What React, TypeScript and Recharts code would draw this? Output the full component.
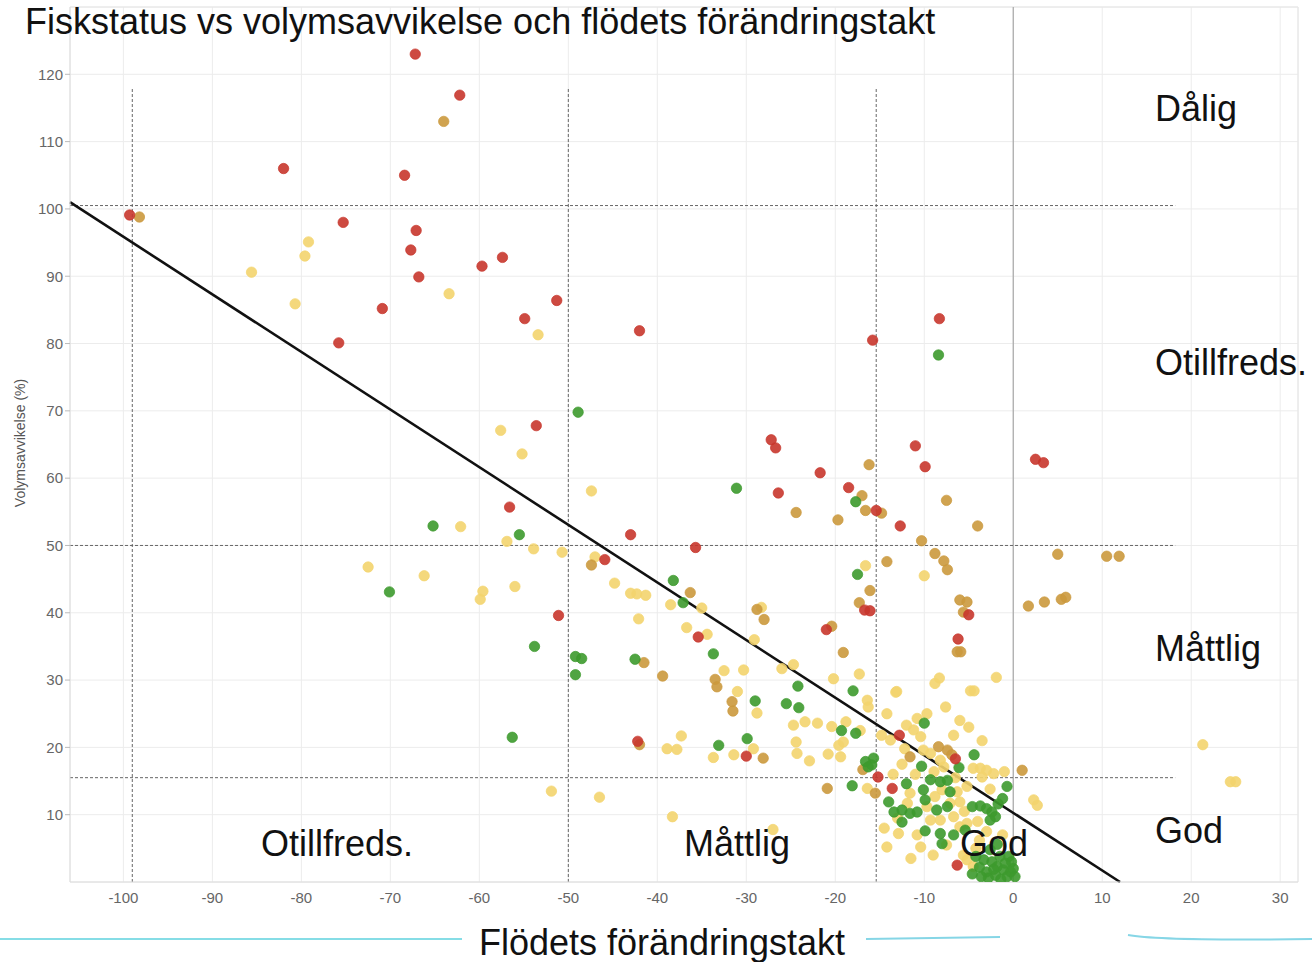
import React from "react";
import {
  CartesianGrid,
  ReferenceLine,
  Scatter,
  ScatterChart,
  XAxis,
  YAxis,
} from "recharts";

type Pt = [number, number];

// x = flödets förändringstakt, y = volymsavvikelse (%)
const xTicks = [-100, -90, -80, -70, -60, -50, -40, -30, -20, -10, 0, 10, 20, 30];
const yTicks = [10, 20, 30, 40, 50, 60, 70, 80, 90, 100, 110, 120];

const redPoints: Pt[] = [
  [-67.2, 123.0], [-62.2, 116.9], [-82.0, 106.0], [-68.4, 105.0], [-99.3, 99.1],
  [-75.3, 98.0], [-67.1, 96.8], [-67.7, 93.9], [-57.4, 92.8], [-59.7, 91.5],
  [-66.8, 89.9], [-70.9, 85.2], [-51.3, 86.4], [-54.9, 83.7], [-75.8, 80.1],
  [-42.0, 81.9], [-15.8, 80.5], [-8.3, 83.7], [-53.6, 67.8], [-27.2, 65.7],
  [-26.7, 64.5], [-11.0, 64.8], [-9.9, 61.7], [2.5, 62.8], [3.4, 62.3],
  [-21.7, 60.8], [-26.4, 57.8], [-18.5, 58.6], [-56.6, 55.7], [-15.4, 55.2],
  [-12.7, 52.9], [-43.0, 51.6], [-35.7, 49.7], [-45.9, 47.9], [-51.1, 39.6],
  [-16.7, 40.4], [-16.1, 40.3], [-5.0, 39.7], [-6.2, 36.1], [-21.0, 37.5],
  [-35.4, 36.4], [-42.2, 20.9], [-30.0, 18.7], [-6.5, 18.3], [-15.2, 15.6],
  [-13.6, 13.9], [-6.3, 2.5], [-12.8, 21.8],
];

const ochrePoints: Pt[] = [
  [-64.0, 113.0], [-98.2, 98.8], [-16.2, 62.0], [-17.0, 57.4], [-16.6, 55.2],
  [-14.8, 54.8], [-24.4, 54.9], [-19.7, 53.8], [-7.5, 56.7], [-4.0, 52.9],
  [-10.3, 50.7], [-8.8, 48.8], [-7.8, 47.7], [-7.4, 46.4], [-14.2, 47.6],
  [-47.4, 47.1], [-36.3, 43.0], [-6.0, 41.9], [-5.2, 41.6], [-5.6, 40.1],
  [-6.3, 34.2], [-5.9, 34.2], [5.0, 48.7], [10.5, 48.4], [11.9, 48.4],
  [1.7, 41.0], [3.5, 41.6], [5.4, 42.0], [5.9, 42.3], [-16.1, 43.3],
  [-17.3, 41.5], [-28.8, 40.5], [-28.0, 39.0], [-20.4, 38.0], [-19.1, 34.1],
  [-41.5, 32.6], [-39.4, 30.6], [-33.5, 30.1], [-33.3, 29.0], [-31.6, 26.8],
  [-31.5, 25.4], [-42.0, 20.4], [-20.9, 13.9], [-15.5, 13.2], [-11.6, 18.6],
  [-7.4, 19.6], [-6.9, 18.9], [-8.4, 20.1], [1.0, 16.6], [-16.9, 16.7],
  [-28.1, 18.4],
];

const yellowPoints: Pt[] = [
  [-79.2, 95.1], [-79.6, 93.0], [-85.6, 90.6], [-63.4, 87.4], [-80.7, 85.9],
  [-53.4, 81.3], [-57.6, 67.1], [-55.2, 63.6], [-47.4, 58.1], [-62.1, 52.8],
  [-56.9, 50.6], [-53.9, 49.5], [-50.7, 49.0], [-47.0, 48.3], [-72.5, 46.8],
  [-66.2, 45.5], [-59.6, 43.2], [-59.9, 42.0], [-56.0, 43.9], [-44.8, 44.4],
  [-43.0, 42.9], [-42.3, 42.8], [-41.3, 42.6], [-42.1, 39.1], [-38.5, 41.2],
  [-35.0, 40.7], [-36.7, 37.8], [-34.4, 36.8], [-28.3, 40.8], [-29.1, 36.0],
  [-24.7, 32.3], [-26.0, 31.7], [-30.3, 31.5], [-32.5, 31.4], [-20.2, 30.2],
  [-17.3, 30.9], [-31.0, 28.3], [-28.8, 25.1], [-16.6, 47.0], [-10.0, 45.5],
  [-8.3, 30.3], [-1.9, 30.4], [-16.4, 27.0], [-16.3, 26.0], [-13.1, 28.3],
  [-14.2, 25.0], [-9.7, 25.0], [-8.8, 29.5], [-4.8, 28.4], [-4.4, 28.4],
  [-7.6, 26.0], [-24.7, 23.3], [-23.4, 23.8], [-22.0, 23.6], [-20.4, 23.1],
  [-18.8, 23.8], [-17.2, 22.5], [-14.8, 21.8], [-13.8, 21.1], [-11.2, 22.6],
  [-10.4, 21.6], [-6.7, 21.8], [-10.8, 24.3], [-12.0, 23.3], [-24.4, 20.8],
  [-24.3, 19.1], [-22.9, 18.0], [-19.6, 20.3], [-19.4, 18.6], [-20.8, 19.0],
  [-19.1, 20.8], [-37.3, 21.7], [-38.9, 19.8], [-37.8, 19.7], [-31.4, 18.9],
  [-33.7, 18.5], [-29.2, 19.8], [-10.1, 19.6], [-9.3, 19.1], [-8.2, 18.1],
  [-7.8, 17.1], [-8.9, 16.4], [-4.5, 16.9], [-3.7, 16.9], [-3.0, 16.6],
  [-2.2, 16.1], [-3.5, 15.6], [-16.4, 13.9], [-11.6, 13.2], [-8.8, 12.7],
  [-8.0, 13.7], [-6.3, 13.4], [-5.2, 14.2], [-11.9, 11.7], [-9.7, 11.2],
  [-7.1, 11.7], [-6.0, 11.9], [-9.3, 9.2], [-8.2, 9.2], [-6.7, 9.7],
  [-6.0, 8.2], [-5.2, 8.7], [-14.2, 5.2], [-12.9, 7.2], [-10.8, 7.0],
  [-10.4, 5.2], [-5.2, 3.3], [-4.5, 2.3], [-5.6, 4.0], [2.3, 12.2],
  [2.7, 11.4], [21.3, 20.4], [24.4, 14.9], [25.0, 14.9], [-51.9, 13.5],
  [-46.5, 12.6], [-38.3, 9.7], [-27.0, 7.8], [-13.2, 28.2], [-3.8, 6.2],
  [-1.2, 7.0], [-4.2, 5.0], [-13.5, 16.0], [-12.5, 17.5], [-11.0, 16.0],
  [-6.5, 15.5], [-5.5, 10.5], [-4.0, 9.0], [-3.0, 7.5], [-7.5, 5.5],
  [-9.0, 4.0], [-11.5, 3.5], [-13.0, 9.5], [-14.5, 8.0], [-6.0, 24.0],
  [-5.0, 23.0], [-3.5, 21.0], [-12.2, 19.8], [-2.6, 13.8], [-1.0, 16.4],
];

const greenPoints: Pt[] = [
  [-8.4, 78.3], [-48.9, 69.8], [-31.1, 58.5], [-65.2, 52.9], [-55.5, 51.6],
  [-70.1, 43.1], [-38.2, 44.8], [-37.1, 41.5], [-17.5, 45.7], [-17.7, 56.5],
  [-53.8, 35.0], [-49.2, 33.5], [-48.5, 33.2], [-49.2, 30.8], [-42.5, 33.1],
  [-33.7, 33.9], [-29.0, 26.9], [-25.5, 26.5], [-24.1, 25.9], [-24.2, 29.1],
  [-18.0, 28.4], [-56.3, 21.5], [-33.1, 20.3], [-29.9, 21.3], [-19.3, 22.5],
  [-17.7, 22.1], [-10.0, 23.6], [-16.6, 17.9], [-15.7, 18.4], [-15.9, 17.4],
  [-16.3, 17.1], [-4.4, 18.9], [-10.3, 17.2], [-6.1, 17.0], [-18.1, 14.3],
  [-12.0, 14.6], [-9.3, 15.2], [-8.2, 14.9], [-7.4, 15.1], [-7.1, 13.4],
  [-10.1, 13.7], [-9.9, 12.2], [-0.7, 14.2], [-1.2, 12.4], [-1.7, 11.6],
  [-14.0, 11.9], [-13.4, 10.4], [-12.5, 10.7], [-11.6, 10.2], [-10.8, 10.4],
  [-12.5, 8.9], [-8.6, 10.7], [-7.4, 11.2], [-4.6, 11.2], [-3.7, 11.3],
  [-3.0, 10.9], [-2.4, 10.4], [-2.0, 9.7], [-2.6, 9.2], [-9.9, 7.6],
  [-8.2, 7.2], [-6.7, 7.0], [-5.4, 7.7], [-8.0, 5.7], [-3.3, 3.3],
  [-2.4, 3.0], [-1.8, 2.3], [-1.1, 1.8], [-0.3, 1.5], [-3.0, 1.5],
  [-2.0, 1.0], [-0.7, 0.8], [0.0, 2.0], [-1.5, 3.8], [-0.5, 3.8],
  [-2.6, 4.8], [-1.8, 5.6], [-3.8, 2.2], [-2.8, 0.6], [-1.4, 0.4],
  [-0.2, 3.0], [-4.2, 3.8], [-3.6, 0.8], [-2.2, 1.9], [-0.9, 2.8],
  [0.2, 0.8], [-4.6, 1.2],
];

// trendlinje och klassgränser
const trendLine = [
  { x: -106, y: 101 },
  { x: 12, y: 0 },
];
const volumeLimits = [100.5, 50, 15.5];
const flowLimits = [-99, -50, -15.4];

const series = [
  { name: "Måttlig", points: yellowPoints, color: "#F3D46E" },
  { name: "Otillfreds.", points: ochrePoints, color: "#CB993D" },
  { name: "God", points: greenPoints, color: "#3D9A2E" },
  { name: "Dålig", points: redPoints, color: "#C8362C" },
];

const FONT = "'Liberation Sans', Arial, Helvetica, sans-serif";

function dot(color: string) {
  return (p: { cx?: number; cy?: number }) => (
    <circle
      cx={p.cx}
      cy={p.cy}
      r={5.2}
      fill={color}
      fillOpacity={0.9}
      stroke={color}
      strokeOpacity={0.7}
      strokeWidth={1}
    />
  );
}

export default function App() {
  return (
    <div
      style={{
        position: "absolute",
        left: 0,
        top: 0,
        width: 1312,
        height: 962,
        background: "#fff",
        fontFamily: FONT,
        overflow: "hidden",
      }}
    >
      <ScatterChart
        width={1312}
        height={962}
        margin={{ top: 7, right: 14, left: 20, bottom: 50 }}
      >
        <CartesianGrid stroke="#ececec" strokeWidth={1} />
        <XAxis
          type="number"
          dataKey="x"
          domain={[-106, 32]}
          ticks={xTicks}
          allowDataOverflow
          height={30}
          axisLine={{ stroke: "#dcdcdc" }}
          tickLine={false}
          tickSize={8}
          tick={{ fill: "#666", fontSize: 15, fontFamily: FONT }}
        />
        <YAxis
          type="number"
          dataKey="y"
          domain={[0, 130]}
          ticks={yTicks}
          allowDataOverflow
          width={50}
          axisLine={{ stroke: "#dcdcdc" }}
          tickLine={{ stroke: "#bbb" }}
          tickSize={5}
          tick={{ fill: "#666", fontSize: 15, fontFamily: FONT }}
        />
        <ReferenceLine y={130} stroke="#e6e6e6" />
        <ReferenceLine x={32} stroke="#e6e6e6" />
        <ReferenceLine x={0} stroke="#a8a8a8" strokeWidth={1.2} />
        {volumeLimits.map((v) => (
          <ReferenceLine
            key={"h" + v}
            segment={[
              { x: -106, y: v },
              { x: 18.2, y: v },
            ]}
            stroke="#666"
            strokeDasharray="3 2"
            strokeWidth={1}
          />
        ))}
        {flowLimits.map((v) => (
          <ReferenceLine
            key={"v" + v}
            segment={[
              { x: v, y: 0 },
              { x: v, y: 118 },
            ]}
            stroke="#666"
            strokeDasharray="3 2"
            strokeWidth={1}
          />
        ))}
        {series.map((s) => (
          <Scatter
            key={s.name}
            name={s.name}
            data={s.points.map(([x, y]) => ({ x, y }))}
            fill={s.color}
            shape={dot(s.color)}
            isAnimationActive={false}
          />
        ))}
        <ReferenceLine
          segment={trendLine}
          stroke="#111"
          strokeWidth={2.6}
          ifOverflow="visible"
        />
      </ScatterChart>

      <svg
        width={1312}
        height={962}
        style={{ position: "absolute", left: 0, top: 0, pointerEvents: "none" }}
        fontFamily={FONT}
      >
        <text x={25} y={34} fontSize={36} fill="#111">
          Fiskstatus vs volymsavvikelse och flödets förändringstakt
        </text>
        <text
          x={0}
          y={0}
          fontSize={14}
          fill="#555"
          textAnchor="middle"
          transform="translate(25,443) rotate(-90)"
        >
          Volymsavvikelse (%)
        </text>
        <g fontSize={36} fill="#111">
          <text x={1155} y={121}>Dålig</text>
          <text x={1155} y={375}>Otillfreds.</text>
          <text x={1155} y={661}>Måttlig</text>
          <text x={1155} y={843}>God</text>
          <text x={261} y={856}>Otillfreds.</text>
          <text x={684} y={856}>Måttlig</text>
          <text x={960} y={856}>God</text>
        </g>
        <line x1={0} y1={939} x2={462} y2={939} stroke="#86dde6" strokeWidth={2} />
        <path d="M866 939 L1000 937" stroke="#86d6e6" strokeWidth={2} fill="none" />
        <path d="M1128 935 Q1160 941 1312 939" stroke="#86d6e6" strokeWidth={2} fill="none" />
        <text x={662} y={955} fontSize={36} fill="#111" textAnchor="middle">
          Flödets förändringstakt
        </text>
      </svg>
    </div>
  );
}
